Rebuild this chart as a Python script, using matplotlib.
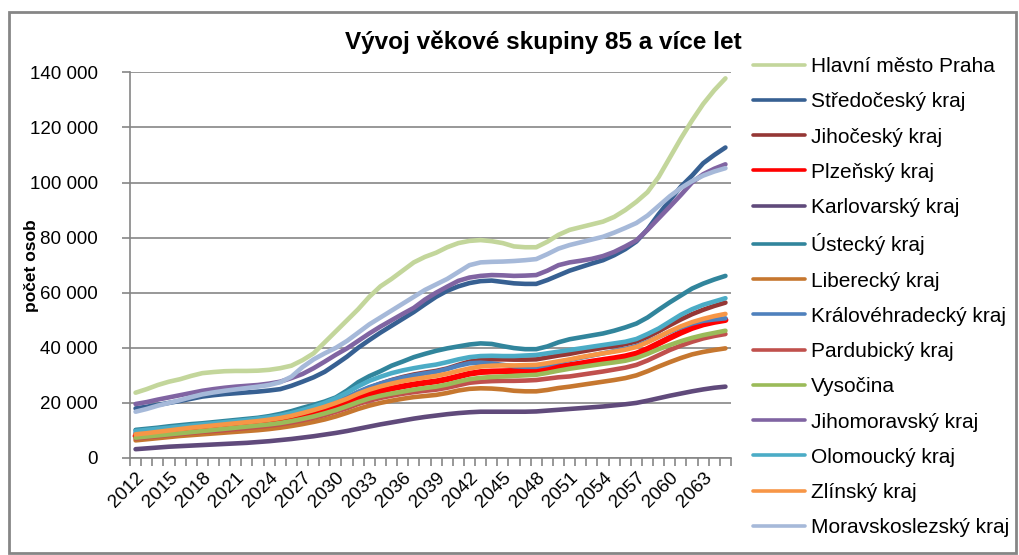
import numpy as np
import matplotlib
matplotlib.use('Agg')
import matplotlib.pyplot as plt
from matplotlib.ticker import FuncFormatter, FixedLocator
from matplotlib.patches import Rectangle

plt.rcParams['font.family'] = ['Liberation Sans', 'DejaVu Sans']

# roky 2012 - 2065
years = list(range(2012, 2066))

# hodnoty v tisicich osob
praha = [23.7, 25.0, 26.5, 27.7, 28.6, 29.8, 30.8, 31.2, 31.5, 31.6,
         31.6, 31.7, 32.0, 32.6, 33.5, 35.5, 38.0, 42.0, 46.0, 50.0,
         54.0, 58.5, 62.3, 65.0, 68.0, 71.0, 73.0, 74.5, 76.5, 78.0,
         78.8, 79.1, 78.7, 78.0, 76.8, 76.5, 76.5, 78.5, 81.0, 82.8,
         83.8, 84.8, 85.8, 87.5, 90.0, 93.0, 96.5, 102.0, 109.0, 116.0,
         122.5, 128.5, 133.5, 137.8]
stredocesky = [18.0, 18.6, 19.3, 20.0, 20.7, 21.5, 22.3, 22.8, 23.2, 23.5,
               23.8, 24.1, 24.5, 25.0, 26.2, 27.7, 29.3, 31.3, 34.0, 36.8,
               40.0, 42.8, 45.5, 48.0, 50.5, 53.0, 55.8, 58.5, 60.7, 62.3,
               63.5, 64.2, 64.4, 63.9, 63.4, 63.2, 63.2, 64.6, 66.3, 68.0,
               69.3, 70.6, 71.8, 73.6, 75.8, 78.6, 83.0, 88.5, 93.5, 98.5,
               102.5, 107.0, 110.0, 112.7]
jihocesky = [8.7, 9.1, 9.5, 9.9, 10.3, 10.7, 11.1, 11.5, 11.9, 12.3,
             12.7, 13.1, 13.6, 14.2, 15.0, 16.0, 17.2, 18.5, 20.0, 21.8,
             23.8, 25.5, 27.0, 28.3, 29.4, 30.3, 31.0, 31.6, 32.5, 33.8,
             35.0, 35.6, 35.8, 35.8, 35.7, 35.7, 35.8, 36.5, 37.2, 37.8,
             38.6, 39.3, 40.0, 40.6, 41.3, 42.3, 44.0, 46.0, 48.2, 50.3,
             52.2, 53.8, 55.2, 56.4]
plzensky = [8.0, 8.4, 8.8, 9.2, 9.6, 10.0, 10.4, 10.8, 11.2, 11.6,
            12.0, 12.4, 12.9, 13.5, 14.3, 15.2, 16.2, 17.4, 18.7, 20.2,
            21.8, 23.2, 24.3, 25.2, 26.0, 26.7, 27.3, 27.8, 28.6, 29.6,
            30.6, 31.2, 31.4, 31.5, 31.6, 31.7, 31.9, 32.5, 33.1, 33.7,
            34.3, 35.0, 35.6, 36.2, 36.9, 37.9, 39.6, 41.6, 43.6, 45.5,
            47.2, 48.5, 49.4, 50.1]
karlovarsky = [3.2, 3.5, 3.8, 4.1, 4.3, 4.5, 4.7, 4.9, 5.1, 5.3,
               5.5, 5.8, 6.1, 6.5, 6.9, 7.4, 7.9, 8.5, 9.1, 9.8,
               10.6, 11.4, 12.2, 12.9, 13.6, 14.3, 14.9, 15.4, 15.9, 16.3,
               16.6, 16.8, 16.8, 16.8, 16.8, 16.8, 16.9, 17.2, 17.5, 17.8,
               18.1, 18.4, 18.7, 19.1, 19.5, 20.0, 20.8, 21.7, 22.6, 23.4,
               24.2, 24.9, 25.5, 25.9]
ustecky = [10.2, 10.6, 11.0, 11.5, 11.9, 12.3, 12.6, 13.0, 13.4, 13.8,
           14.2, 14.6, 15.2, 16.0, 17.0, 18.2, 19.3, 20.5, 22.0, 24.5,
           27.5, 29.7, 31.5, 33.5, 35.0, 36.6, 37.8, 38.9, 39.8, 40.5,
           41.2, 41.6, 41.4, 40.6, 39.9, 39.5, 39.5, 40.5, 42.0, 43.1,
           43.8, 44.5, 45.2, 46.2, 47.4, 48.8, 51.0, 53.8, 56.5, 59.0,
           61.5, 63.3, 64.8, 66.1]
liberecky = [6.4, 6.8, 7.2, 7.6, 8.0, 8.3, 8.6, 8.9, 9.2, 9.5,
             9.8, 10.1, 10.5, 11.0, 11.6, 12.3, 13.1, 14.0, 15.1, 16.4,
             17.8, 19.0, 20.0, 20.8, 21.5, 22.1, 22.5, 22.9, 23.6, 24.5,
             25.1, 25.3, 25.2, 24.9, 24.4, 24.2, 24.2, 24.7, 25.4, 25.9,
             26.5, 27.1, 27.7, 28.3, 29.0, 30.0, 31.5, 33.2, 34.8, 36.3,
             37.6, 38.5, 39.2, 39.8]
kralovehradecky = [9.2, 9.6, 10.0, 10.4, 10.8, 11.2, 11.6, 12.0, 12.4, 12.8,
                   13.2, 13.6, 14.1, 14.7, 15.5, 16.5, 17.6, 18.9, 20.3, 22.0,
                   24.0, 25.7, 27.0, 28.2, 29.2, 30.0, 30.7, 31.3, 32.3, 33.5,
                   34.4, 34.6, 34.3, 33.8, 33.3, 33.1, 33.1, 33.8, 34.8, 35.6,
                   36.4, 37.2, 38.0, 38.8, 39.6, 40.6, 42.2, 44.0, 45.8, 47.4,
                   48.8, 49.8, 50.3, 50.7]
pardubicky = [7.1, 7.5, 7.9, 8.3, 8.7, 9.1, 9.5, 9.8, 10.1, 10.5,
              10.9, 11.3, 11.7, 12.2, 12.9, 13.7, 14.6, 15.6, 16.8, 18.1,
              19.6, 20.8, 21.8, 22.6, 23.3, 23.9, 24.4, 24.8, 25.5, 26.4,
              27.3, 27.7, 27.9, 28.0, 28.0, 28.1, 28.3, 28.8, 29.3, 29.6,
              30.2, 30.8, 31.4, 32.1, 32.8, 33.8, 35.4, 37.3, 39.2, 40.8,
              42.2, 43.4, 44.3, 45.0]
vysocina = [7.4, 7.8, 8.2, 8.6, 9.0, 9.4, 9.8, 10.2, 10.6, 11.0,
            11.4, 11.8, 12.2, 12.7, 13.4, 14.2, 15.1, 16.2, 17.4, 18.8,
            20.3, 21.6, 22.6, 23.4, 24.1, 24.8, 25.4, 25.9, 26.7, 27.7,
            28.6, 29.1, 29.4, 29.6, 29.8, 30.0, 30.2, 30.9, 31.7, 32.4,
            33.0, 33.6, 34.2, 34.7, 35.3, 36.3, 37.8, 39.5, 41.0, 42.4,
            43.6, 44.6, 45.4, 46.2]
jihomoravsky = [19.6, 20.3, 21.2, 22.0, 22.8, 23.6, 24.4, 25.0, 25.5, 25.9,
                26.2, 26.5, 27.0, 27.7, 29.0, 30.5, 32.6, 35.0, 37.5, 39.8,
                42.5, 45.2, 47.7, 50.0, 52.3, 54.5, 57.5, 60.0, 62.2, 64.3,
                65.5, 66.1, 66.4, 66.3, 66.1, 66.2, 66.4, 68.0, 70.0, 71.0,
                71.6, 72.3, 73.3, 74.8, 76.8, 79.0, 82.8, 87.0, 91.2, 95.5,
                100.0, 103.0, 105.0, 106.6]
olomoucky = [9.8, 10.2, 10.6, 11.0, 11.4, 11.8, 12.2, 12.6, 13.0, 13.4,
             13.8, 14.3, 14.8, 15.4, 16.3, 17.4, 18.6, 20.0, 21.7, 23.7,
             26.0, 28.0, 29.5, 30.8, 31.8, 32.6, 33.3, 33.9, 34.8, 35.8,
             36.6, 37.0, 37.1, 37.0, 37.0, 37.2, 37.4, 38.0, 38.6, 39.2,
             39.8, 40.4, 41.0, 41.6, 42.2, 43.2, 45.0, 47.0, 49.5, 52.0,
             54.0, 55.6, 56.8, 58.0]
zlinsky = [8.6, 9.0, 9.5, 10.0, 10.5, 11.0, 11.4, 11.8, 12.2, 12.6,
           13.0, 13.4, 13.9, 14.5, 15.3, 16.3, 17.4, 18.6, 20.0, 21.5,
           23.3, 24.8, 26.0, 27.0, 27.9, 28.6, 29.2, 29.8, 30.6, 31.6,
           32.5, 33.2, 33.5, 33.6, 33.6, 33.7, 33.8, 34.4, 35.1, 35.8,
           36.6, 37.3, 38.0, 38.6, 39.3, 40.3, 42.0, 44.0, 46.0, 47.8,
           49.3, 50.5, 51.5, 52.3]
moravskoslezsky = [16.8, 17.8, 19.0, 20.0, 21.0, 22.1, 23.1, 23.8, 24.4, 24.9,
                   25.4, 25.9, 26.5, 27.5, 29.5, 33.0, 35.8, 38.0, 40.0, 42.5,
                   45.5, 48.5, 51.0, 53.5, 56.0, 58.5, 61.0, 63.0, 65.0, 67.5,
                   70.0, 71.0, 71.2, 71.3, 71.5, 71.8, 72.2, 74.0, 76.0, 77.3,
                   78.3, 79.3, 80.3, 81.8, 83.5, 85.3, 88.0, 91.5, 95.0, 98.0,
                   100.5, 102.5, 104.0, 105.2]

series = [
    ('Hlavní město Praha', praha, '#C3D69B'),
    ('Středočeský kraj', stredocesky, '#376092'),
    ('Jihočeský kraj', jihocesky, '#953735'),
    ('Plzeňský kraj', plzensky, '#FF0000'),
    ('Karlovarský kraj', karlovarsky, '#604A7B'),
    ('Ústecký kraj', ustecky, '#31859C'),
    ('Liberecký kraj', liberecky, '#C6772F'),
    ('Královéhradecký kraj', kralovehradecky, '#4F81BD'),
    ('Pardubický kraj', pardubicky, '#C0504D'),
    ('Vysočina', vysocina, '#9BBB59'),
    ('Jihomoravský kraj', jihomoravsky, '#8064A2'),
    ('Olomoucký kraj', olomoucky, '#4BACC6'),
    ('Zlínský kraj', zlinsky, '#F79646'),
    ('Moravskoslezský kraj', moravskoslezsky, '#A6B9D9'),
]

W, H = 1019, 555
fig = plt.figure(figsize=(W / 100, H / 100), dpi=100)
ax = fig.add_axes([130 / W, 1 - 458 / H, 601 / W, (458 - 72.3) / H])

x = np.arange(len(years))
for name, vals, col in series:
    lw = 4.3 if name == 'Plzeňský kraj' else 3.3
    ax.plot(x, np.array(vals) * 1000, color=col, lw=lw, label=name,
            solid_capstyle='round', solid_joinstyle='round')

gray = '#868686'
ax.set_xlim(-0.5, len(years) - 0.5)
ax.set_ylim(0, 140000)
ax.set_yticks(np.arange(0, 140001, 20000))
ax.yaxis.set_major_formatter(FuncFormatter(lambda v, p: f'{int(v):,}'.replace(',', ' ')))
ax.grid(axis='y', color=gray, lw=1.2)
ax.set_axisbelow(True)

# carky mezi kategoriemi, popisky kazdy 3. rok
ax.xaxis.set_major_locator(FixedLocator(np.arange(-0.5, len(years), 1.0)))
ax.xaxis.set_major_formatter(FuncFormatter(lambda v, p: ''))
lab_pos = x[::3]
ax.xaxis.set_minor_locator(FixedLocator(lab_pos))
ax.set_xticklabels([str(years[i]) for i in lab_pos], minor=True)
ax.tick_params(axis='x', which='minor', length=0, pad=8, labelsize=13.5,
               labelrotation=45)
for t in ax.get_xticklabels(minor=True):
    t.set_ha('right')
    t.set_va('top')
    t.set_rotation_mode('anchor')
ax.tick_params(axis='x', which='major', length=6, color=gray, width=1.2)
ax.tick_params(axis='y', length=6, color=gray, width=1.2, labelsize=13.5, pad=17)

for s in ['top', 'right']:
    ax.spines[s].set_visible(False)
for s in ['left', 'bottom']:
    ax.spines[s].set_color(gray)
    ax.spines[s].set_linewidth(1.2)

ax.set_ylabel('počet osob', fontsize=12.5, fontweight='bold')
ax.yaxis.set_label_coords(-0.152, 0.5)

fig.text(543 / W, 1 - 42 / H, 'Vývoj věkové skupiny 85 a více let',
         ha='center', va='center', fontsize=17.5, fontweight='bold')

leg = fig.legend(loc='upper left', bbox_to_anchor=(753 / W, 1 - 57 / H),
                 frameon=False, fontsize=15, handlelength=2.5,
                 handletextpad=0.3, labelspacing=0.78, borderpad=0,
                 borderaxespad=0)
for ln in leg.get_lines():
    ln.set_linewidth(2.6)

fig.add_artist(Rectangle((9 / W, 2 / H), (1016 - 9) / W, (553 - 12) / H,
                         transform=fig.transFigure, fill=False,
                         edgecolor=gray, lw=2))

fig.savefig('out.png', dpi=100)
